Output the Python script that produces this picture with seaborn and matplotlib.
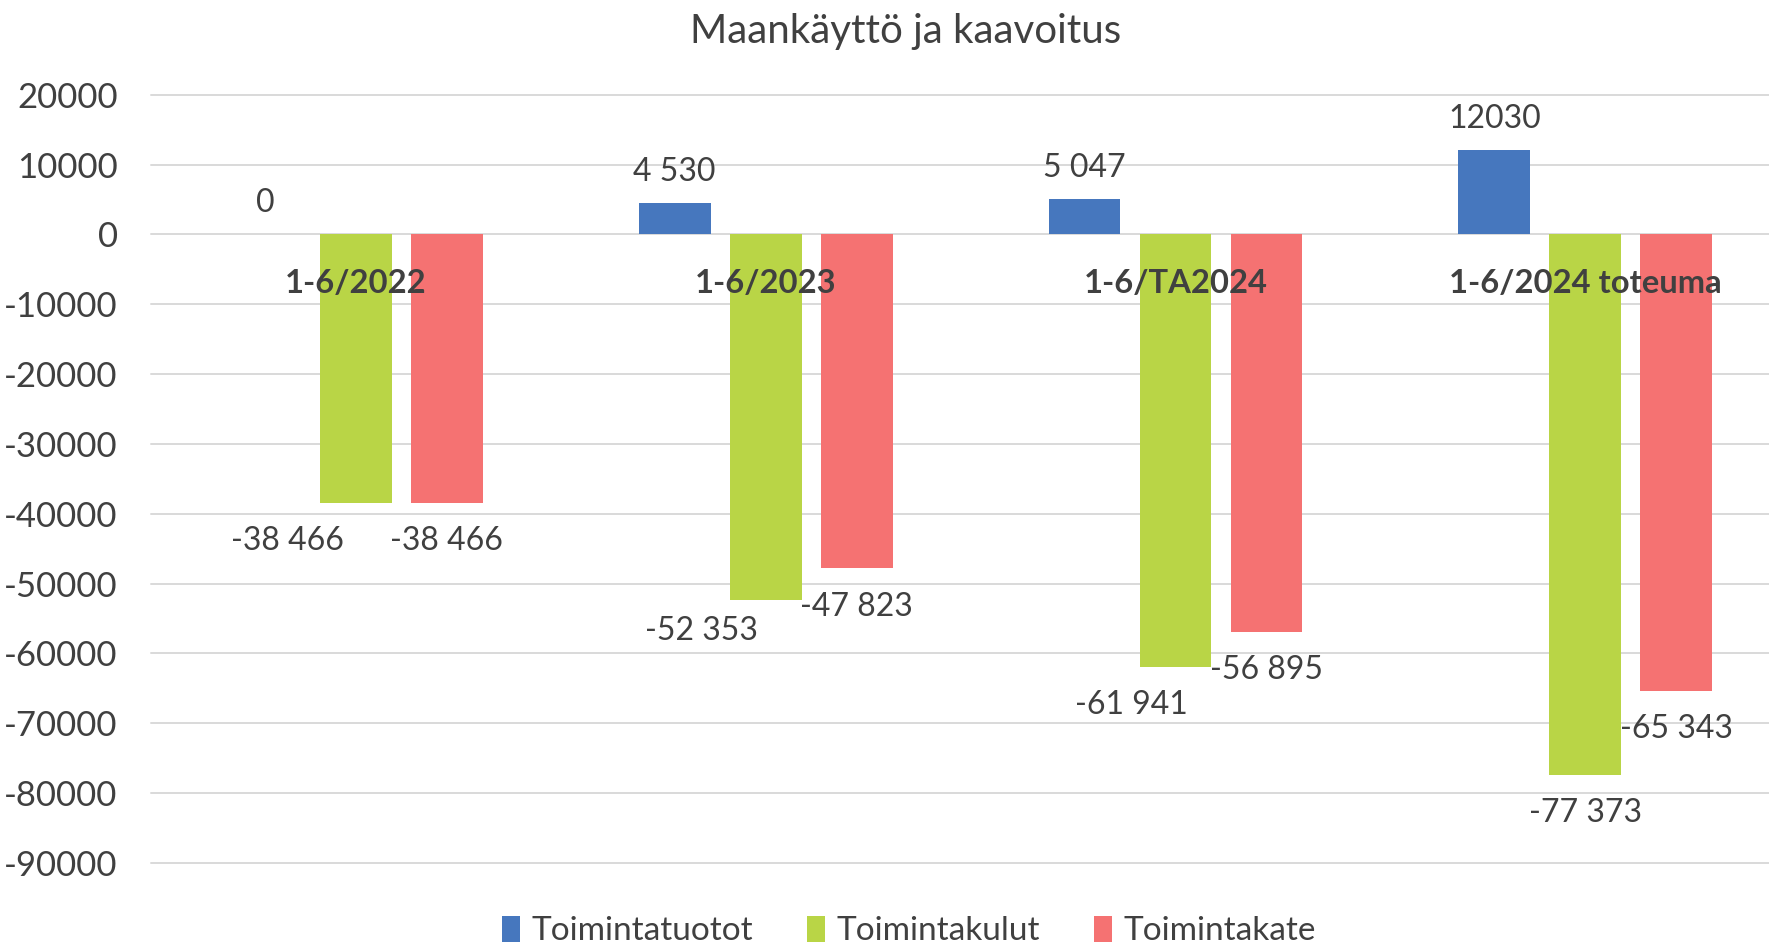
import matplotlib
matplotlib.use("Agg")
import matplotlib.pyplot as plt
import seaborn as sns
import pandas as pd

# ---- data ----
categories = ["1-6/2022", "1-6/2023", "1-6/TA2024", "1-6/2024 toteuma"]
series = ["Toimintatuotot", "Toimintakulut", "Toimintakate"]
toimintatuotot = [0, 4530, 5047, 12030]
toimintakulut = [-38466, -52353, -61941, -77373]
toimintakate = [-38466, -47823, -56895, -65343]
label_texts = {
    "Toimintatuotot": ["0", "4 530", "5 047", "12030"],
    "Toimintakulut": ["-38 466", "-52 353", "-61 941", "-77 373"],
    "Toimintakate": ["-38 466", "-47 823", "-56 895", "-65 343"],
}
yticks = list(range(-90000, 20001, 10000))

colors = ["#4677BE", "#B9D546", "#F57272"]
text_color = "#404040"

sns.set_style("white")
plt.rcParams["font.family"] = ["Lato", "DejaVu Sans"]

df = pd.DataFrame({
    "cat": categories * 3,
    "series": [series[0]] * 4 + [series[1]] * 4 + [series[2]] * 4,
    "value": toimintatuotot + toimintakulut + toimintakate,
})

W, H = 1769, 944
fig = plt.figure(figsize=(W / 100, H / 100), dpi=100)
ax = fig.add_axes([151 / W, 1 - 863 / H, 1 - 151 / W, (863 - 94.8) / H])

sns.barplot(data=df, x="cat", y="value", hue="series", order=categories,
            hue_order=series, palette=colors, width=0.666, gap=0.21,
            saturation=1, ax=ax, errorbar=None, linewidth=0)

ax.set_xlim(-0.5, -0.5 + (W - 151) / 409.8)
ax.set_ylim(-90000, 20000)
ax.set_yticks(yticks)
ax.set_yticklabels([str(v) for v in yticks], fontsize=25, color=text_color)
ax.tick_params(axis="y", length=0, pad=24)
ax.set_xticks([])
ax.set_xlabel("")
ax.set_ylabel("")
for s in ax.spines.values():
    s.set_visible(False)
ax.set_axisbelow(True)
ax.yaxis.grid(True, color="#D9D9D9", linewidth=1.4)
for gl in ax.get_ygridlines():
    gl.set_clip_on(False)

# category labels at zero line
for i, c in enumerate(categories):
    ax.annotate(c, xy=(i, 0), xytext=(0, -42), textcoords="offset points",
                ha="center", va="baseline", fontsize=23.6, fontweight="bold",
                color=text_color)

# data labels
green_dx = [-49, -46, -32, 0]
green_dy = [-34, -28.5, -34, -34]
containers = ax.containers
for si, (cont, name) in enumerate(zip(containers, series)):
    for bi, bar in enumerate(cont):
        val = bar.get_height()
        xc = bar.get_x() + bar.get_width() / 2
        if si == 0:
            dx, dy = 0, 16
        elif si == 1:
            dx, dy = green_dx[bi], green_dy[bi]
        else:
            dx, dy = 0, -34
        ax.annotate(label_texts[name][bi], xy=(xc, val), xytext=(dx, dy),
                    textcoords="offset points", ha="center", va="baseline",
                    fontsize=23, color=text_color)

handles, labels = ax.get_legend_handles_labels()
if ax.legend_ is not None:
    ax.legend_.remove()
fig.legend(handles, labels, loc="center", bbox_to_anchor=(909 / W, 1 - 931 / H),
           ncol=3, frameon=False, fontsize=24, handlelength=0.55, handleheight=0.85,
           handletextpad=0.35, columnspacing=1.6, labelcolor=text_color,
           borderpad=0)

fig.text(906 / W, 1 - 43 / H, "Maankäyttö ja kaavoitus", ha="center",
         va="baseline", fontsize=29, color=text_color)

fig.savefig("out.png", dpi=100)
